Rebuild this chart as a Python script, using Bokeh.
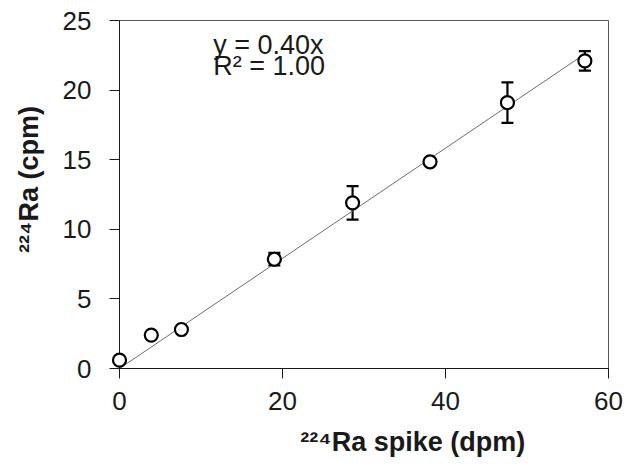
import numpy as np
from bokeh.plotting import figure
from bokeh.models import (ColumnDataSource, Whisker, TeeHead, Label, FixedTicker,
                          Range1d)
from bokeh.embed import file_html
from bokeh.resources import INLINE

# 224Ra spike activity added (dpm) vs. measured count rate (cpm)
spike_dpm = [0.0, 3.9, 7.6, 19.0, 28.6, 38.1, 47.6, 57.1]
count_cpm = [0.6, 2.4, 2.8, 7.85, 11.9, 14.85, 19.1, 22.1]
count_err = [0.0, 0.0, 0.0, 0.45, 1.2, 0.0, 1.45, 0.7]

x_ticks = [0, 20, 40, 60]
y_ticks = [0, 5, 10, 15, 20, 25]

x_title = "²²⁴Ra spike (dpm)"
y_title = "²²⁴Ra (cpm)"

FONT = "Liberation Sans"
INK = "#1a1a1a"
NBSP = "\u00a0"

x = np.array(spike_dpm)
y = np.array(count_cpm)

# least-squares fit forced through the origin
slope = float((x * y).sum() / (x * x).sum())
r2 = 1.0 - float(((y - slope * x) ** 2).sum()) / float((y ** 2).sum())

p = figure(frame_width=489, frame_height=348,
           min_border_left=119, min_border_right=23,
           min_border_top=20, min_border_bottom=101,
           x_range=Range1d(0, 60), y_range=Range1d(0, 25),
           output_backend="svg", toolbar_location=None,
           background_fill_color="white", border_fill_color="white")

p.grid.visible = False
p.outline_line_color = "#555555"
p.outline_line_width = 1

for ax, ticks in ((p.xaxis[0], x_ticks), (p.yaxis[0], y_ticks)):
    ax.ticker = FixedTicker(ticks=ticks)
    ax.axis_line_color = INK
    ax.axis_line_width = 1
    ax.major_tick_line_color = INK
    ax.major_tick_in = 0
    ax.major_tick_out = 10
    ax.minor_tick_line_color = None
    ax.major_label_text_font = FONT
    ax.major_label_text_font_size = "26px"
    ax.major_label_text_color = INK
    ax.axis_label_text_font = FONT
    ax.axis_label_text_font_size = "27px"
    ax.axis_label_text_font_style = "bold"
    ax.axis_label_text_color = INK
p.xaxis.major_label_standoff = 13
p.yaxis.major_label_standoff = 18

# axis titles sit right of / above the frame centre: pad on the leading side
p.xaxis.axis_label = NBSP * 13 + x_title
p.yaxis.axis_label = NBSP * 4 + y_title
p.xaxis.axis_label_standoff = 14
p.yaxis.axis_label_standoff = 16

# fitted line
fit_x = [0.0, float(x.max())]
fit_y = [slope * v for v in fit_x]
p.line(fit_x, fit_y, line_color="#6e6e6e", line_width=1)

# error bars for the points that carry an uncertainty
ex, elo, ehi = [], [], []
for xi, yi, ei in zip(spike_dpm, count_cpm, count_err):
    if ei > 0:
        ex.append(xi)
        elo.append(yi - ei)
        ehi.append(yi + ei)
err_src = ColumnDataSource(dict(base=ex, lower=elo, upper=ehi))
whisk = Whisker(source=err_src, base="base", lower="lower", upper="upper",
                dimension="height", line_color="black", line_width=2.2,
                upper_head=TeeHead(size=12, line_color="black", line_width=2.2),
                lower_head=TeeHead(size=12, line_color="black", line_width=2.2))
p.add_layout(whisk)

pts = p.scatter(spike_dpm, count_cpm, marker="circle", size=13,
                fill_color="white", line_color="black", line_width=2.2)
pts.level = "overlay"

# regression annotation
p.add_layout(Label(x=11.5, y=23.25, text=f"y = {slope:.2f}x",
                   text_baseline="alphabetic",
                   text_font=FONT, text_font_size="27px", text_color=INK))
p.add_layout(Label(x=11.5, y=21.7, text=f"R² = {r2:.2f}",
                   text_baseline="alphabetic",
                   text_font=FONT, text_font_size="27px", text_color=INK))

open("out.html", "w").write(file_html(p, INLINE))
